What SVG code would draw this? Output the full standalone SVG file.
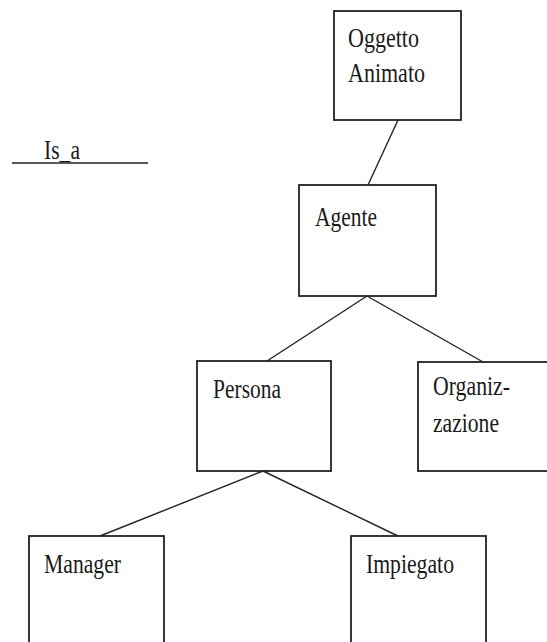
<svg xmlns="http://www.w3.org/2000/svg" width="547" height="642" viewBox="0 0 547 642">
  <style>
    .box { fill: #ffffff; stroke: #222222; stroke-width: 1.8; }
    .link { stroke: #222222; stroke-width: 1.4; fill: none; }
    .lbl { font-family: "Liberation Serif", "Times New Roman", serif; font-size: 28px; fill: #1a1a1a; }
  </style>
  <rect width="547" height="642" fill="#ffffff"/>

  <!-- legend -->
  <g id="legend">
    <text class="lbl" x="44" y="159" textLength="36" lengthAdjust="spacingAndGlyphs">Is_a</text>
    <line class="link" x1="12" y1="163" x2="148" y2="163"/>
  </g>

  <!-- is_a links -->
  <g id="connectors">
    <line class="link" x1="398" y1="120" x2="368" y2="185"/>
    <line class="link" x1="367" y1="296" x2="267" y2="361"/>
    <line class="link" x1="367" y1="296" x2="483" y2="362"/>
    <line class="link" x1="263" y1="471" x2="100" y2="536"/>
    <line class="link" x1="263" y1="471" x2="400" y2="537"/>
  </g>

  <g id="oggetto-animato">
    <rect class="box" x="334" y="11" width="127" height="109"/>
    <text class="lbl" x="348" y="46.5" textLength="71" lengthAdjust="spacingAndGlyphs">Oggetto</text>
    <text class="lbl" x="348" y="81.5" textLength="77" lengthAdjust="spacingAndGlyphs">Animato</text>
  </g>

  <g id="agente">
    <rect class="box" x="299" y="185" width="137" height="111"/>
    <text class="lbl" x="315" y="226" textLength="62" lengthAdjust="spacingAndGlyphs">Agente</text>
  </g>

  <g id="persona">
    <rect class="box" x="197" y="361" width="134" height="110"/>
    <text class="lbl" x="213" y="398" textLength="68" lengthAdjust="spacingAndGlyphs">Persona</text>
  </g>

  <g id="organizzazione">
    <rect class="box" x="418" y="362" width="140" height="109"/>
    <text class="lbl" x="433" y="395" textLength="77" lengthAdjust="spacingAndGlyphs">Organiz-</text>
    <text class="lbl" x="433" y="431.5" textLength="66" lengthAdjust="spacingAndGlyphs">zazione</text>
  </g>

  <g id="manager">
    <rect class="box" x="29" y="536" width="135" height="120"/>
    <text class="lbl" x="44" y="573" textLength="77" lengthAdjust="spacingAndGlyphs">Manager</text>
  </g>

  <g id="impiegato">
    <rect class="box" x="351" y="536" width="135" height="120"/>
    <text class="lbl" x="366" y="573" textLength="88" lengthAdjust="spacingAndGlyphs">Impiegato</text>
  </g>
</svg>
